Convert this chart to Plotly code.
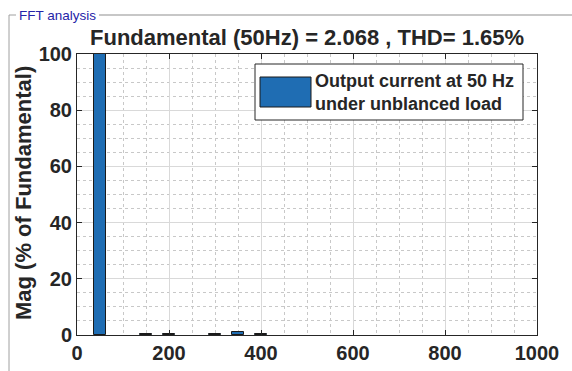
import plotly.graph_objects as go

# Data
freqs = [50, 150, 200, 300, 350, 400]
mags = [100, 0.4, 0.4, 0.4, 1.1, 0.4]
series_name = "Output current at 50 Hz<br>under unblanced load"
title_text = "Fundamental (50Hz) = 2.068 , THD= 1.65%"
panel_title = "FFT analysis"
y_label = "Mag (% of Fundamental)"
x_ticks = [0, 200, 400, 600, 800, 1000]
y_ticks = [0, 20, 40, 60, 80, 100]

bar_color = "#1f6db3"
axis_color = "#262626"
font_family = "Liberation Sans, Arial, sans-serif"

fig = go.Figure()
fig.add_trace(go.Bar(
    x=freqs, y=mags, width=26,
    marker=dict(color=bar_color, line=dict(color="#1a1a1a", width=1)),
    name=series_name, showlegend=False,
))

W, H = 572, 371
L, R, T, B = 77, 35, 54, 36

axis_common = dict(
    showline=True, linecolor=axis_color, linewidth=1, mirror="ticks",
    ticks="inside", ticklen=5, tickcolor=axis_color,
    showgrid=True, gridcolor="#d9d9d9", gridwidth=1,
    zeroline=False, automargin=False,
    tickfont=dict(family=font_family, size=20, color=axis_color, weight="bold"),
)

fig.update_xaxes(
    range=[0, 1000], tickvals=x_ticks,
    minor=dict(dtick=50, showgrid=True, griddash="dot", gridcolor="#c8c8c8", gridwidth=1),
    **axis_common,
)
fig.update_yaxes(
    range=[0, 100], tickvals=y_ticks,
    minor=dict(dtick=5, showgrid=True, griddash="dot", gridcolor="#c8c8c8", gridwidth=1),
    **axis_common,
)

def px_x(p):
    return (p - L) / (W - L - R)

def px_y(p):
    return 1 - (p - T) / (H - T - B)

shapes = [
    # group-box frame
    dict(type="line", xref="paper", yref="paper", x0=px_x(9), x1=px_x(16), y0=px_y(15), y1=px_y(15),
         line=dict(color="#a0a0a0", width=1)),
    dict(type="line", xref="paper", yref="paper", x0=px_x(99), x1=px_x(572), y0=px_y(15), y1=px_y(15),
         line=dict(color="#b4b4b4", width=1.5)),
    dict(type="line", xref="paper", yref="paper", x0=px_x(9), x1=px_x(9), y0=px_y(15), y1=px_y(371),
         line=dict(color="#a0a0a0", width=1)),
    # legend box
    dict(type="rect", xref="paper", yref="paper", x0=px_x(255), x1=px_x(523), y0=px_y(64), y1=px_y(120),
         line=dict(color="#262626", width=1), fillcolor="white", layer="above"),
    dict(type="rect", xref="paper", yref="paper", x0=px_x(260), x1=px_x(311), y0=px_y(77), y1=px_y(107),
         line=dict(color="#1a1a1a", width=1), fillcolor=bar_color, layer="above"),
]

annotations = [
    dict(text=panel_title, xref="paper", yref="paper", x=px_x(17), y=px_y(15),
         xanchor="left", yanchor="middle", showarrow=False,
         font=dict(family=font_family, size=13.5, color="#2424a8")),
    dict(text=title_text, xref="paper", yref="paper", x=0.5, y=px_y(38),
         xanchor="center", yanchor="middle", showarrow=False,
         font=dict(family=font_family, size=22, color=axis_color, weight="bold")),
    dict(text=y_label, xref="paper", yref="paper", x=px_x(23), y=px_y(193),
         xanchor="center", yanchor="middle", showarrow=False, textangle=-90,
         font=dict(family=font_family, size=22, color=axis_color, weight="bold")),
    dict(text=series_name, xref="paper", yref="paper", x=px_x(313), y=px_y(92),
         xanchor="left", yanchor="middle", showarrow=False, align="left",
         font=dict(family=font_family, size=18, color=axis_color, weight="bold")),
]

fig.update_layout(
    width=W, height=H,
    margin=dict(l=L, r=R, t=T, b=B),
    paper_bgcolor="white", plot_bgcolor="white",
    shapes=shapes, annotations=annotations,
    showlegend=False, bargap=0,
)

fig.write_html("out.html")
